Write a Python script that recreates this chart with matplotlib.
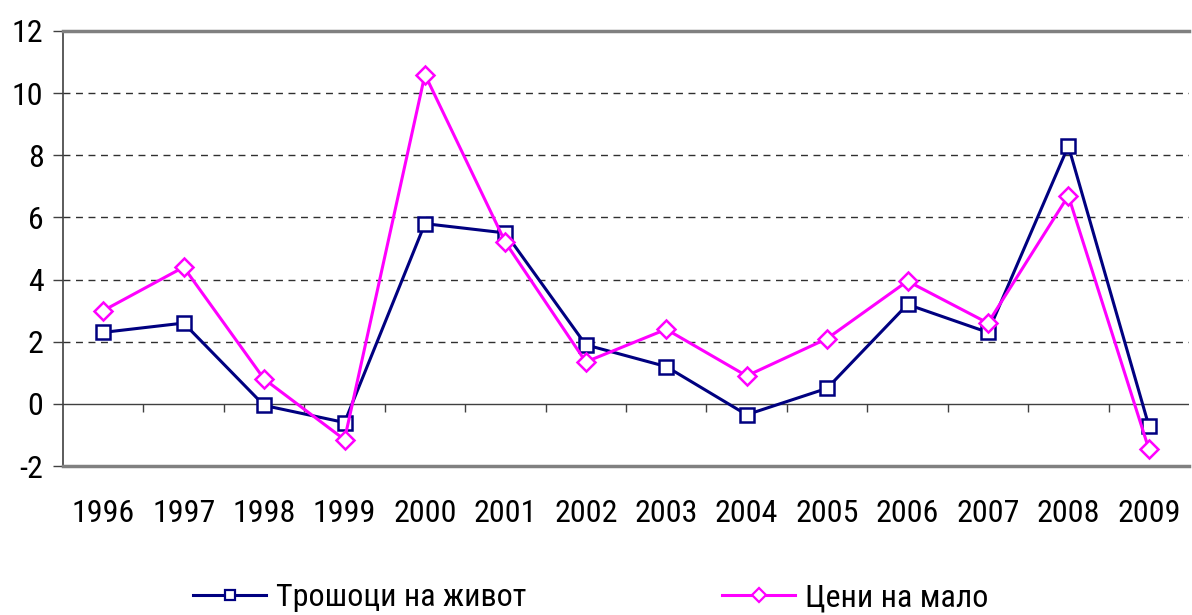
import matplotlib
matplotlib.use("Agg")
import matplotlib.pyplot as plt
from matplotlib.lines import Line2D
from matplotlib import font_manager as fm

_avail = set(f.name for f in fm.fontManager.ttflist)
if 'Roboto Condensed' in _avail:
    plt.rcParams['font.family'] = ['Roboto Condensed', 'Liberation Sans', 'DejaVu Sans']
    FS = 23
else:
    plt.rcParams['font.family'] = ['Liberation Sans', 'DejaVu Sans']
    FS = 21

years = ["1996", "1997", "1998", "1999", "2000", "2001", "2002",
         "2003", "2004", "2005", "2006", "2007", "2008", "2009"]
living_costs = [2.3, 2.6, -0.05, -0.6, 5.8, 5.5, 1.9, 1.2, -0.35, 0.5, 3.2, 2.3, 8.3, -0.7]
retail_prices = [3.0, 4.4, 0.8, -1.15, 10.6, 5.2, 1.35, 2.4, 0.9, 2.1, 3.95, 2.6, 6.7, -1.45]
label_living = "Трошоци на живот"
label_retail = "Цени на мало"
yticks = [-2, 0, 2, 4, 6, 8, 10, 12]

W, H = 1192, 615
fig = plt.figure(figsize=(W / 100, H / 100), dpi=100)
left, right, top, bottom = 63, 1189, 31, 466
ax = fig.add_axes([left / W, 1 - bottom / H, (right - left) / W, (bottom - top) / H])

n = len(years)
x = list(range(n))
ax.set_xlim(-0.5, n - 0.5)
ax.set_ylim(-2, 12)

# grid
for v in yticks:
    if v not in (-2, 0, 12):
        ax.axhline(v, color='#303030', lw=1.0, dashes=(5, 4), zorder=1)
ax.axhline(0, color='#404040', lw=1.0, zorder=1)
# category tick marks on zero line
bounds = [i + 0.5 for i in range(n - 1)]
ax.vlines(bounds, -0.27, 0, color='#404040', lw=1.0, zorder=1)

navy = '#000080'
mag = '#FF00FF'
ax.plot(x, living_costs, color=navy, lw=2.2, marker='s', markersize=10,
        markerfacecolor='white', markeredgecolor=navy, markeredgewidth=1.8, zorder=3)
ax.plot(x, retail_prices, color=mag, lw=2.2, marker='D', markersize=9.5,
        markerfacecolor='white', markeredgecolor=mag, markeredgewidth=1.8, zorder=4)

# spines
for s in ['top', 'bottom']:
    ax.spines[s].set_color('#808080')
    ax.spines[s].set_linewidth(2.5)
ax.spines['right'].set_visible(False)
ax.spines['left'].set_color('#404040')
ax.spines['left'].set_linewidth(1.2)

ax.set_yticks(yticks)
ax.set_yticklabels([str(v) for v in yticks], fontsize=FS)
ax.tick_params(axis='y', direction='out', length=7, width=1, color='#404040', pad=7)
ax.set_xticks(x)
ax.set_xticklabels(years, fontsize=FS)
ax.tick_params(axis='x', length=0, pad=24)

h1 = Line2D([], [], color=navy, lw=2.2, marker='s', markersize=7,
            markerfacecolor='white', markeredgecolor=navy, markeredgewidth=1.6)
h2 = Line2D([], [], color=mag, lw=2.2, marker='D', markersize=7,
            markerfacecolor='white', markeredgecolor=mag, markeredgewidth=1.6)
for h, lab, x0 in [(h1, label_living, 193), (h2, label_retail, 722)]:
    fig.legend([h], [lab], loc='center left', bbox_to_anchor=(x0 / W, 1 - 598 / H),
               frameon=False, fontsize=FS, borderpad=0, borderaxespad=0,
               handlelength=2.3, handletextpad=0.3)

fig.savefig("out.png", dpi=100)
